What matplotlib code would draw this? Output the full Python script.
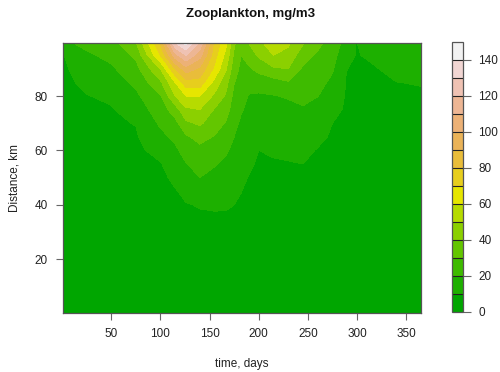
import colorsys
import numpy as np
import matplotlib
matplotlib.use("Agg")
import matplotlib.pyplot as plt

plt.rcParams['font.family'] = ['Liberation Sans', 'DejaVu Sans']

# ---- data ----
days = [1, 25, 50, 75, 100, 115, 126, 140, 155, 167, 175, 182, 190, 200,
        215, 230, 245, 260, 275, 289, 299, 320, 340, 365]
km = [0, 25, 35, 40, 45, 50, 55, 60, 65, 70, 75, 80, 85, 90, 95, 100]

# one row per day, values at the km positions above (mg/m3)
zoo_by_day = [
    [2, 3, 3.8, 4, 4.3, 4.6, 4.9, 5.2, 5.5, 5.9, 6.3, 6.8, 7.5, 8.4, 9.6, 18.5],
    [2.5, 3.5, 4.2, 4.6, 5, 5.5, 6, 6.6, 7.2, 7.9, 8.8, 9.7, 12.3, 15, 18.5, 23],
    [3, 4, 4.7, 5.1, 5.6, 6.1, 6.7, 7.3, 8, 8.8, 9.3, 11.5, 15, 18.5, 22.5, 27],
    [3, 4.3, 5, 5.5, 6, 6.6, 7.3, 8, 9, 10.3, 14.5, 18, 22, 26.5, 32, 40],
    [3.5, 5, 6, 6.7, 7.5, 8.3, 9.4, 13, 17.5, 21.5, 25, 29, 38, 50, 70, 82],
    [3.5, 6, 7.8, 8.8, 9.5, 11.5, 15, 18, 22, 27, 35, 50, 60, 80, 106, 132],
    [3.5, 6.5, 8.5, 9.7, 11.5, 15.5, 19.5, 24, 28.5, 38, 48, 60, 76, 96, 120, 146],
    [3.5, 7, 9.3, 10.3, 14, 20, 23.5, 27, 33.5, 41.5, 50, 60, 76, 88, 104, 120],
    [3.5, 7, 9.1, 10.8, 13, 16.5, 21, 25, 29.4, 35, 39.2, 48, 57, 68, 74, 78],
    [3.5, 6.5, 9.2, 10.6, 12.5, 14.5, 17.5, 21.5, 25, 29, 34, 38.5, 43, 50.5, 56.5, 62],
    [3.5, 6.5, 9, 10, 11.3, 12.8, 14.8, 17, 20, 22.5, 24.5, 27, 30.5, 34, 38, 42],
    [3.5, 6.5, 8.5, 9.4, 10.1, 11, 12.2, 13.8, 15.8, 18.5, 21, 23.5, 26, 28, 30, 33],
    [3.5, 6, 7.5, 8.2, 9, 9.8, 11, 12.5, 14, 15.5, 17.5, 19.5, 23, 28.5, 35, 41],
    [3.5, 5.5, 6.8, 7.3, 7.9, 8.5, 9.2, 10, 11.5, 13.5, 16, 18.8, 24, 33, 41.5, 48],
    [3.5, 5.5, 6.7, 7.2, 7.8, 8.6, 9.5, 10.6, 12.2, 14, 16.5, 19.5, 26, 38.5, 50, 57],
    [3.5, 5.5, 6.6, 7.1, 7.8, 8.6, 9.7, 11, 12.6, 14.5, 17, 21, 29, 40, 47, 52],
    [3.5, 5.5, 6.5, 7, 7.7, 8.6, 10, 11.5, 13.2, 15.5, 19, 22.5, 25.5, 28.5, 34, 42],
    [3.5, 5, 6, 6.5, 7.1, 7.8, 8.6, 9.6, 11.5, 13.5, 16.5, 20.2, 23, 25.5, 28.5, 33],
    [3.5, 5, 5.8, 6.2, 6.7, 7.2, 7.8, 8.5, 9.2, 10, 12.5, 15, 18, 21, 23.5, 26],
    [3.5, 4.8, 5.5, 5.9, 6.3, 6.7, 7.1, 7.6, 8.1, 8.5, 8.9, 9.3, 9.6, 10.1, 13, 16.5],
    [3.3, 4.6, 5.3, 5.7, 6.1, 6.5, 6.9, 7.3, 7.7, 8.1, 8.5, 8.9, 9.2, 9.5, 9.7, 9.9],
    [3.2, 4.5, 5.2, 5.6, 6, 6.4, 6.8, 7.2, 7.6, 8, 8.4, 8.8, 9.3, 9.85, 11, 12.5],
    [3.2, 4.5, 5.2, 5.6, 6, 6.4, 6.8, 7.2, 7.7, 8.2, 8.8, 9.4, 9.95, 11.2, 12.8, 14.5],
    [3.2, 4.5, 5.2, 5.6, 6, 6.4, 6.8, 7.3, 7.8, 8.3, 8.9, 9.5, 10.2, 11.8, 13.5, 15.5],
]

levels = list(range(0, 160, 10))
cbar_ticks = [0, 20, 40, 60, 80, 100, 120, 140]
x_ticks = [50, 100, 150, 200, 250, 300, 350]
y_ticks = [20, 40, 60, 80]


def terrain_colors(n):
    k = n // 2
    h = [4 / 12, 2 / 12, 0.0]
    s = [1.0, 1.0, 0.0]
    v = [0.65, 0.9, 0.95]
    cols = []
    for i in range(k):
        t = i / (k - 1)
        cols.append(colorsys.hsv_to_rgb(h[0] + (h[1] - h[0]) * t, 1.0,
                                        v[0] + (v[1] - v[0]) * t))
    m = n - k + 1
    for i in range(1, m):
        t = i / (m - 1)
        cols.append(colorsys.hsv_to_rgb(h[1] + (h[2] - h[1]) * t,
                                        s[1] + (s[2] - s[1]) * t,
                                        v[1] + (v[2] - v[1]) * t))
    return cols


colors = terrain_colors(len(levels) - 1)
Z = np.array(zoo_by_day).T

fig = plt.figure(figsize=(5.0, 3.72), dpi=100)
ax = fig.add_axes([63 / 500, 1 - 313 / 372, 358 / 500, 270 / 372])
cf = ax.contourf(days, km, Z, levels=levels, colors=colors, antialiased=False)
ax.set_xlim(1, 365)
ax.set_ylim(0.2, 99.5)

tc = '#222222'
ax.set_xticks(x_ticks)
ax.set_yticks(y_ticks)
ax.tick_params(direction='out', length=5, width=0.8, color='#666666',
               labelsize=8.5, labelcolor=tc, pad=6)
for sp in ax.spines.values():
    sp.set_color('#555555')
    sp.set_linewidth(0.9)
ax.set_xlabel('time, days', fontsize=8.5, color=tc, labelpad=13)
ax.set_ylabel('Distance, km', fontsize=8.5, color=tc, labelpad=10)

cax = fig.add_axes([452 / 500, 1 - 312 / 372, 11 / 500, 270 / 372])
cb = fig.colorbar(cf, cax=cax, drawedges=True)
cb.set_ticks(cbar_ticks)
cb.dividers.set_color('#222222')
cb.dividers.set_linewidth(0.8)
cb.outline.set_edgecolor('#555555')
cb.outline.set_linewidth(0.9)
cax.tick_params(direction='out', length=6, width=0.8, color='#666666',
                labelsize=8.5, labelcolor=tc, pad=5)

fig.text(0.502, 1 - 14 / 372, 'Zooplankton, mg/m3', ha='center', va='center',
         fontsize=9.5, fontweight='bold', color='#111111')

fig.savefig('out.png', dpi=100)
